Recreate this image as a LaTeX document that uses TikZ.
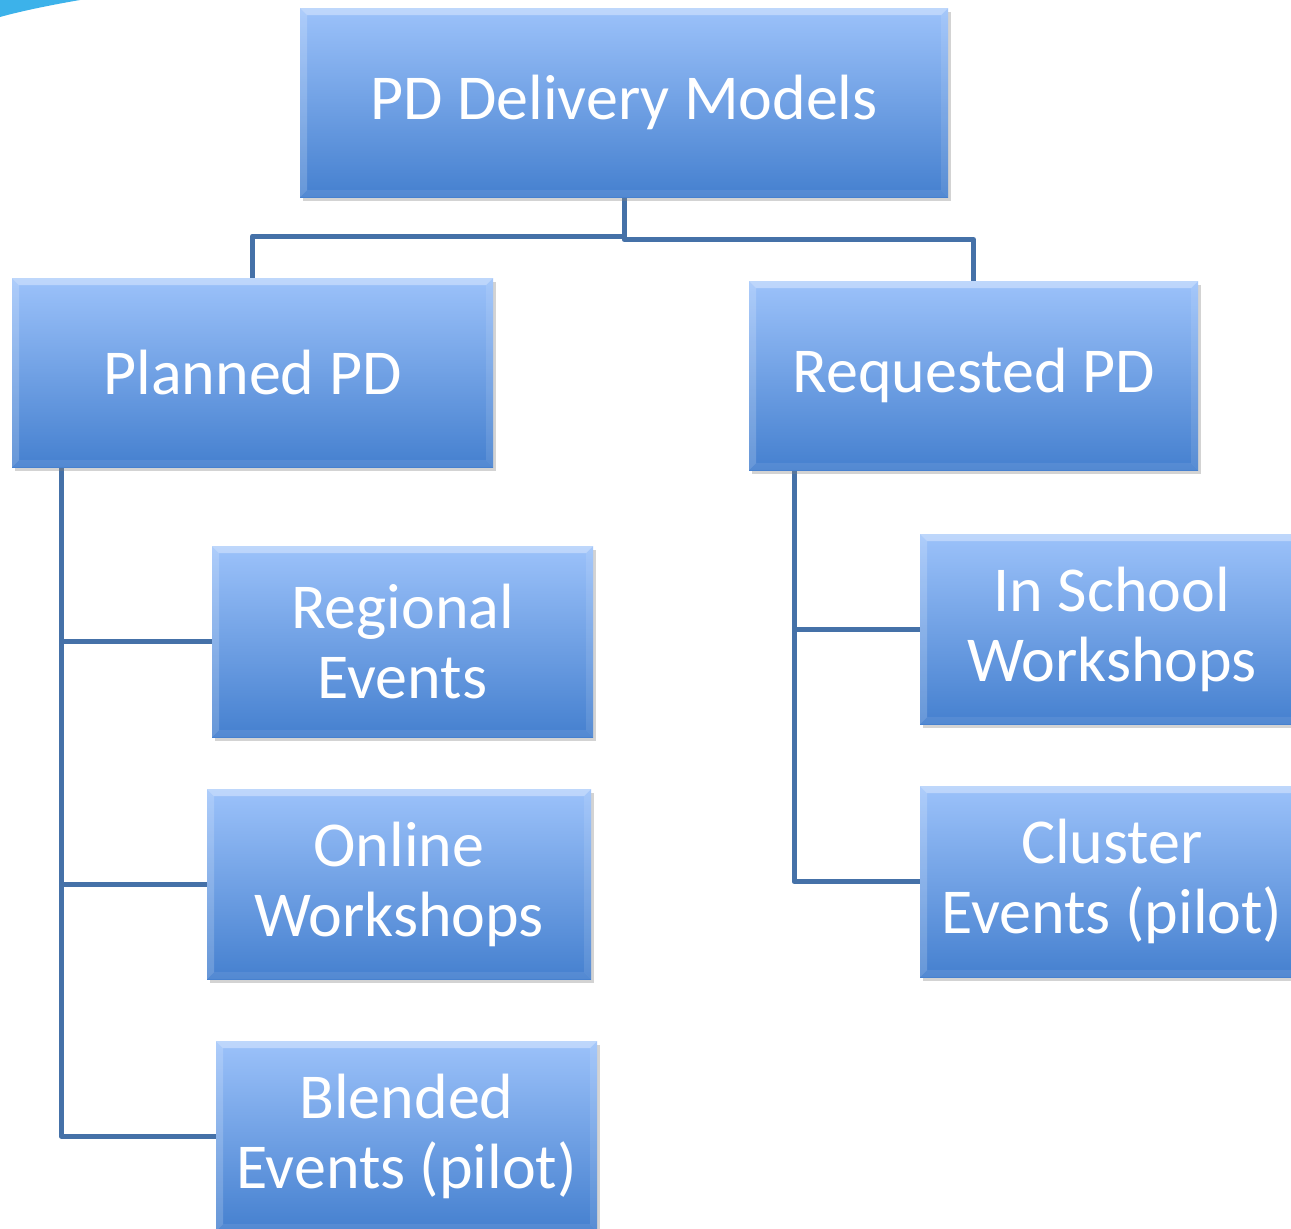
\documentclass[tikz,border=0pt]{standalone}
\usepackage{fontspec}
\setmainfont{Carlito}
\usetikzlibrary{shadows,backgrounds}
\definecolor{boxtop}{HTML}{9CC2FA}
\definecolor{boxbot}{HTML}{4580CF}
\definecolor{conncol}{HTML}{4571A8}
\definecolor{swoosh}{HTML}{3CB2EA}
\tikzset{
  box/.style={rectangle, inner sep=0pt, top color=boxtop, bottom color=boxbot,
    text=white, font=\fontsize{64}{70}\selectfont, align=center,
    drop shadow={opacity=0.35, shadow xshift=3pt, shadow yshift=-4pt},
    path picture={
      \fill[white, opacity=0.35] (path picture bounding box.north west) -- (path picture bounding box.north east)
        -- ([shift={(-7pt,-7pt)}]path picture bounding box.north east) -- ([shift={(7pt,-7pt)}]path picture bounding box.north west) -- cycle;
      \fill[white, opacity=0.18] (path picture bounding box.north west) -- ([shift={(7pt,-7pt)}]path picture bounding box.north west)
        -- ([shift={(7pt,7pt)}]path picture bounding box.south west) -- (path picture bounding box.south west) -- cycle;
      \fill[white, opacity=0.10] (path picture bounding box.north east) -- ([shift={(-7pt,-7pt)}]path picture bounding box.north east)
        -- ([shift={(-7pt,7pt)}]path picture bounding box.south east) -- (path picture bounding box.south east) -- cycle;
      \fill[white, opacity=0.08] (path picture bounding box.south west) -- ([shift={(7pt,7pt)}]path picture bounding box.south west)
        -- ([shift={(-7pt,7pt)}]path picture bounding box.south east) -- (path picture bounding box.south east) -- cycle;
    }},
  conn/.style={draw=conncol, line width=5pt, line join=round}
}
\begin{document}
\begin{tikzpicture}[x=1pt, y=-1pt]
\useasboundingbox (0,0) rectangle (1291,1229);
\fill[swoosh] (0,0) -- (80,0) .. controls (45,6) and (18,12) .. (0,17) -- cycle;

\node[box, minimum width=648pt, minimum height=189pt] (top) at (624,102.5) {PD Delivery Models};
\node[box, minimum width=481pt, minimum height=189pt] (planned) at (252.5,372.5) {Planned PD};
\node[box, minimum width=449pt, minimum height=189pt] (requested) at (973.5,375.5) {Requested PD};
\node[box, minimum width=381pt, minimum height=191pt] (regional) at (402.5,641.5) {Regional\\Events};
\node[box, minimum width=384pt, minimum height=190pt] (online) at (399,884) {Online\\Workshops};
\node[box, minimum width=381pt, minimum height=190pt] (blended) at (406.5,1136) {Blended\\Events (pilot)};
\node[box, minimum width=384pt, minimum height=190pt] (inschool) at (1112,629) {In School\\Workshops};
\node[box, minimum width=384pt, minimum height=191pt] (cluster) at (1112,881.5) {Cluster\\Events (pilot)};

\coordinate (jl) at (624,236);
\coordinate (jr) at (624,239.5);
\coordinate (ls) at (61,467);
\coordinate (rs) at (794,470);
\begin{scope}[on background layer]
\draw[conn] (top.south) -- (jr) -| (requested.north);
\draw[conn] (jl) -| (planned.north);
\draw[conn] (ls) |- (blended.west);
\draw[conn] (ls |- regional.west) -- (regional.west);
\draw[conn] (ls |- online.west) -- (online.west);
\draw[conn] (rs) |- (cluster.west);
\draw[conn] (rs |- inschool.west) -- (inschool.west);
\end{scope}
\end{tikzpicture}
\end{document}
